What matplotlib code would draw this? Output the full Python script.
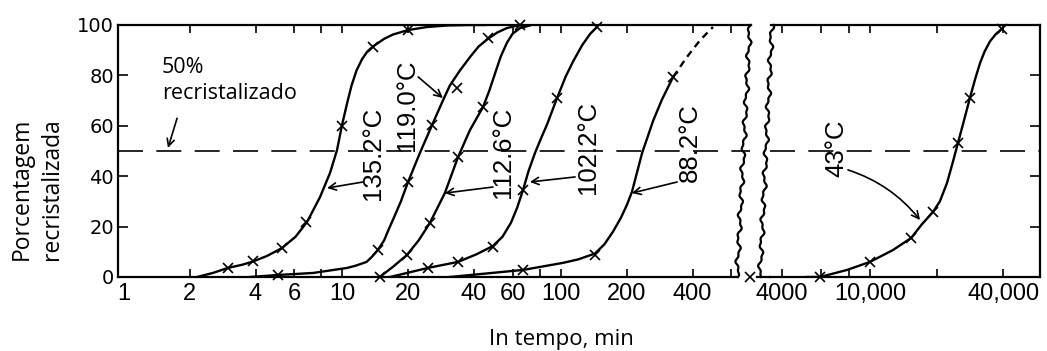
import numpy as np
import matplotlib
matplotlib.use("Agg")
import matplotlib.pyplot as plt
from matplotlib.ticker import FixedLocator, FixedFormatter, NullLocator

# ---------------- data ----------------
t_135 = [2.16, 2.55, 2.99, 3.45, 3.85, 4.5, 5.29, 6.1, 6.88, 7.89, 8.77, 9.44, 9.95, 10.5, 11.0, 11.6,
         12.3, 13.0, 13.8, 15.5, 17.0, 19.95, 24.4, 30.0, 38.0, 45.0]
p_135 = [0, 1.6, 3.6, 4.8, 6.0, 8.3, 11.5, 16.0, 21.8, 31.7, 41.3, 50.4, 60.3, 69, 76, 82,
         86.5, 89.5, 91.5, 94.5, 96.2, 98, 99.2, 99.8, 100, 100]
mt_135 = [2.99, 3.9, 5.29, 6.8, 9.95, 13.8, 19.95]
mp_135 = [3.6, 6.3, 11.5, 22, 60, 91.3, 98]

t_119 = [3.77, 5.07, 7.33, 10.5, 11.5, 12.9, 13.7, 14.5, 15.5, 16.2, 17.0, 18.5, 19.95, 22.6, 25.7,
         28.8, 31.0, 34.5, 38.5, 42.0, 46.3, 51.0, 56.6, 64.9]
p_119 = [0, 0.8, 1.6, 3.6, 4.5, 6.0, 8.2, 10.7, 14.5, 18.5, 22.6, 30.0, 37.7, 49.2, 60.3,
         70, 76, 82, 87.5, 91.5, 94.5, 97, 98.8, 100]
mt_119 = [5.07, 14.5, 19.95, 25.7, 33.4, 46.3, 64.9]
mp_119 = [0.8, 10.7, 37.7, 60.3, 75, 94.8, 100]

t_112 = [14.8, 17.0, 19.7, 22.3, 25.1, 29.4, 33.8, 38.3, 44.0, 47.0, 50.0, 53.0, 56.6, 60.0, 65.0, 72.0]
p_112 = [0, 4.0, 8.7, 14.5, 21.4, 33.3, 47.6, 58.3, 67.5, 74, 81, 87.5, 93, 96.5, 98.8, 99.8]
mt_112 = [14.8, 19.7, 25.1, 33.8, 44.0]
mp_112 = [0, 8.7, 21.4, 47.6, 67.5]

t_102 = [16.5, 24.6, 33.8, 41.0, 48.8, 54.0, 59.0, 63.0, 67.0, 71.0, 76.0, 81.0, 86.3, 95.9, 105.0,
         113.5, 125.0, 136.0, 146.0]
p_102 = [0, 3.6, 6.0, 9.0, 12.3, 16.0, 21.5, 27.5, 34.5, 42.0, 49.2, 55.0, 60.5, 71, 79.5,
         85.5, 92.0, 96.5, 99.2]
mt_102 = [24.6, 33.8, 48.8, 67, 95.9, 146]
mp_102 = [3.6, 6.0, 11.9, 34.5, 71, 99.2]

t_88 = [31.0, 67, 102, 120, 143, 158, 173, 188, 200, 211, 222, 235, 250, 264, 290, 326]
p_88 = [0, 2.8, 5.6, 7.0, 9.3, 13.0, 18.0, 23.5, 28.5, 33.7, 41.0, 49.2, 56.0, 62.0, 70.5, 79.4]
t_88_dash = [326, 377, 433, 496]
p_88_dash = [79.4, 87.3, 94, 99.2]
mt_88 = [67, 143, 326]
mp_88 = [2.8, 8.7, 79.4]

t_43 = [5190, 5940, 7870, 10000, 12700, 15350, 17200, 19270, 20700, 22300, 23600, 25000, 26600,
        28300, 30000, 31500, 33000, 34900, 37000, 39500]
p_43 = [0, 0, 2.8, 6.0, 10.7, 15.5, 21.0, 25.8, 30.0, 37.3, 45.0, 53.2, 62.0,
        71, 79, 85, 89.5, 93.5, 96.3, 98.5]
mt_43 = [2865, 5940, 10000, 15350, 19270, 25000, 28300, 39500]
mp_43 = [0, 0, 6.0, 15.5, 25.8, 53.2, 71, 98.5]

left_ticks = [1, 2, 4, 6, 8, 10, 20, 40, 60, 80, 100, 200, 400, 600]
left_labels = ["1", "2", "4", "6", "", "10", "20", "40", "60", "", "100", "200", "400", ""]
right_ticks = [4000, 6000, 8000, 10000, 20000, 40000]
right_labels = ["4000", "", "", "10,000", "", "40,000"]
y_ticks = [0, 20, 40, 60, 80, 100]

# ---------------- figure ----------------
plt.rcParams['font.family'] = ['DejaVu Sans']
W, H = 1047, 351
fig = plt.figure(figsize=(W / 100, H / 100), dpi=100)

def fx(px):
    return px / W

def fy(py):
    return 1 - py / H

L0, L1 = 118, 750
R0, R1 = 770, 1040
TOP, BOT = 25, 277
axL = fig.add_axes([fx(L0), fy(BOT), (L1 - L0) / W, (BOT - TOP) / H])
axR = fig.add_axes([fx(R0), fy(BOT), (R1 - R0) / W, (BOT - TOP) / H])

for ax in (axL, axR):
    ax.set_xscale('log')
    ax.set_ylim(0, 100)
    for s in ax.spines.values():
        s.set_linewidth(1.6)
    ax.xaxis.set_minor_locator(NullLocator())

axL.set_xlim(0.939, 732.6)
axR.set_xlim(3527, 58770)

lw = 1.7
mk = dict(marker='x', ms=6.5, mew=1.2, color='k', ls='none', clip_on=False)

axL.plot(t_135, p_135, 'k-', lw=lw)
axL.plot(mt_135, mp_135, **mk)
axL.plot(t_119, p_119, 'k-', lw=lw)
axL.plot(mt_119, mp_119, **mk)
axL.plot(t_112, p_112, 'k-', lw=lw)
axL.plot(mt_112, mp_112, **mk)
axL.plot(t_102, p_102, 'k-', lw=lw)
axL.plot(mt_102, mp_102, **mk)
axL.plot(t_88, p_88, 'k-', lw=lw)
axL.plot(t_88_dash, p_88_dash, 'k-', lw=lw, dashes=(3, 2.2))
axL.plot(mt_88, mp_88, **mk)
axR.plot(t_43, p_43, 'k-', lw=lw)
axR.plot(mt_43, mp_43, **mk)

# 50% dashed line
for ax in (axL, axR):
    ax.axhline(50, color='k', lw=1.2, dashes=(15, 8))

# ticks
tick_font = ['Liberation Sans', 'DejaVu Sans']
axL.xaxis.set_major_locator(FixedLocator(left_ticks))
axL.xaxis.set_major_formatter(FixedFormatter(left_labels))
axR.xaxis.set_major_locator(FixedLocator(right_ticks))
axR.xaxis.set_major_formatter(FixedFormatter(right_labels))
for ax in (axL, axR):
    ax.tick_params(axis='x', which='major', direction='in', top=True, bottom=True,
                   length=6, width=1.2, pad=4, labelsize=17)
    for lab in ax.get_xticklabels():
        lab.set_family(tick_font)
axL.xaxis.get_major_ticks()[0].tick1line.set_visible(False)
axL.xaxis.get_major_ticks()[0].tick2line.set_visible(False)

axL.set_yticks(y_ticks)
axL.tick_params(axis='y', direction='in', left=True, right=False, length=7, width=1.2,
                pad=3, labelsize=14)
axR.set_yticks([20, 40, 60, 80])
axR.tick_params(axis='y', direction='in', left=False, right=True, labelleft=False,
                labelright=False, length=7, width=1.2)

# broken-axis edges
axL.spines['right'].set_visible(False)
axR.spines['left'].set_visible(False)
axL.spines['bottom'].set_bounds(0.939, 639)
axR.spines['top'].set_bounds(3580, 58770)

def wavy(ax, x_top, x_bot, a0, a1, phase):
    ys = np.linspace(0, 1, 160)
    base = x_bot + (x_top - x_bot) * ys
    wig = 1.6 * np.sin(ys * 2 * np.pi * 11 + phase) + 0.9 * np.sin(ys * 2 * np.pi * 27 + 2 * phase)
    xs = (base + wig - a0) / (a1 - a0)
    ax.plot(xs, ys, transform=ax.transAxes, color='k', lw=1.6, clip_on=False)

wavy(axL, 750, 737, L0, L1, 0.3)
wavy(axR, 772, 760, R0, R1, 1.7)
axR.plot([(757 - R0) / (R1 - R0), 0.0], [0, 0], transform=axR.transAxes, color='k',
         lw=1.6, clip_on=False)

# temperature labels
lab_font = ['Liberation Sans', 'DejaVu Sans']
lab_kw = dict(rotation=90, ha='center', va='center', fontsize=18.5, family=lab_font)
axL.text(13.8, 49.2, "135.2°C", **lab_kw)
axL.text(19.8, 68.3, "119.0°C", **lab_kw)
axL.text(54.3, 49.6, "112.6°C", **lab_kw)
axL.text(133, 51.6, "102.2°C", **lab_kw)
axL.text(389, 53.2, "88.2°C", **lab_kw)
axR.text(7020, 51.2, "43°C", **lab_kw)

arr = dict(arrowstyle='->', lw=1.2, color='k', shrinkA=0, shrinkB=0, mutation_scale=13)
axL.annotate("", xy=(8.5, 35.3), xytext=(12.4, 37.7), arrowprops=arr)
axL.annotate("", xy=(28.8, 71), xytext=(22.2, 79.4), arrowprops=arr)
axL.annotate("", xy=(29.4, 33.3), xytext=(48.8, 35.7), arrowprops=arr)
axL.annotate("", xy=(72, 37.7), xytext=(116, 39.7), arrowprops=arr)
axL.annotate("", xy=(211, 33.3), xytext=(340, 37.7), arrowprops=arr)
axR.annotate("", xy=(16840, 22.6), xytext=(7950, 42.5),
             arrowprops=dict(arr, connectionstyle="arc3,rad=-0.15"))

# 50% annotation
note_font = ['Open Sans', 'DejaVu Sans']
axL.text(1.49, 83, "50%", ha='left', va='center', fontsize=15.5, family=note_font)
axL.text(1.49, 73, "recristalizado", ha='left', va='center', fontsize=15.5, family=note_font)
axL.annotate("", xy=(1.59, 51.2), xytext=(1.75, 63), arrowprops=arr)

# axis titles
fig.text(fx(22), fy(260), "Porcentagem", rotation=90, ha='center', va='bottom',
         fontsize=16.5, family=note_font)
fig.text(fx(52), fy(260), "recristalizada", rotation=90, ha='center', va='bottom',
         fontsize=16.5, family=note_font)
fig.text(fx(561), fy(340), "In tempo, min", ha='center', va='center',
         fontsize=16, family=note_font)

fig.savefig("out.png", dpi=100)
